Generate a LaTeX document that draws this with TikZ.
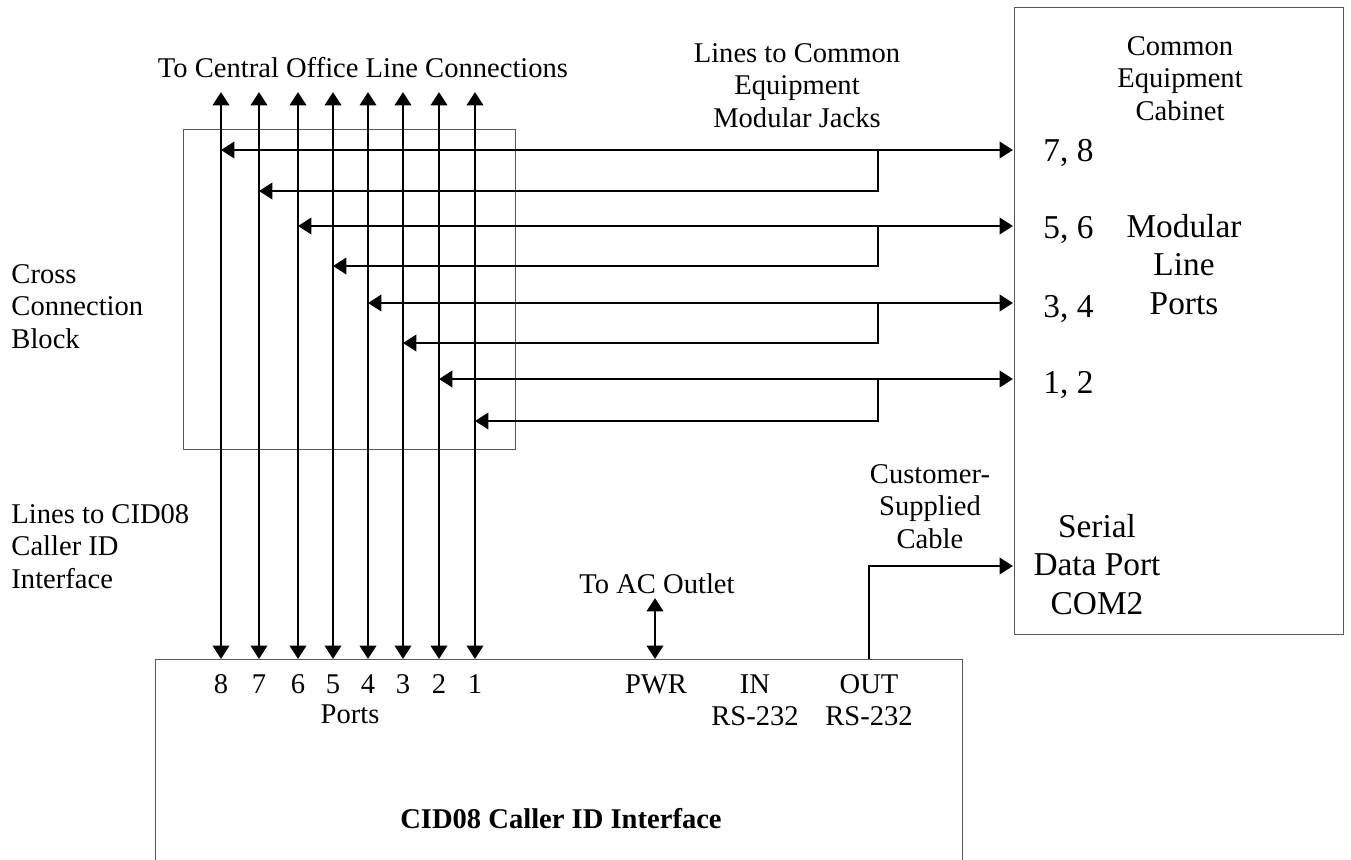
\documentclass[tikz,border=0pt]{standalone}
\usepackage{fontspec}
\setmainfont{Liberation Serif}
\usetikzlibrary{arrows.meta}
\newcommand\smtxt{\fontsize{12}{13.7}\selectfont}
\newcommand\bigtxt{\fontsize{14}{16.2}\selectfont}
\newcommand\mlc[1]{{\renewcommand\arraystretch{1}\begin{tabular}[t]{@{}c@{}}#1\end{tabular}}}
\newcommand\mll[1]{{\renewcommand\arraystretch{1}\begin{tabular}[t]{@{}l@{}}#1\end{tabular}}}
\begin{document}
\begin{tikzpicture}[x=0.42pt,y=-0.42pt,
  >={Triangle[length=5.6pt,width=6.8pt]},
  wire/.style={line width=1.25pt},
  box/.style={draw=black!65,line width=0.6pt,inner sep=0pt,anchor=north west},
  lbl/.style={inner sep=0pt,font=\smtxt,anchor=base},
  big/.style={inner sep=0pt,font=\bigtxt,anchor=base}]
\useasboundingbox (0,0) rectangle (1351,860);
% boxes
\node[box,minimum width=139.44pt,minimum height=134.4pt] (ccbox) at (183,129) {};
\node[box,minimum width=138.18pt,minimum height=263.34pt] (cab) at (1014,7) {};
\node[box,minimum width=338.94pt,minimum height=92pt] (cid) at (155,659) {};
% texts
\node[lbl] (tco) at (363,77) {To Central Office Line Connections};
\node[lbl] (lcom) at (797,62) {\mlc{Lines to Common\\Equipment\\Modular Jacks}};
\node[lbl] (cec) at (1180,55) {\mlc{Common\\Equipment\\Cabinet}};
\node[big,anchor=base west] (n78) at (1043,161) {7, 8};
\node[big,anchor=base west] (n56) at (1043,238) {5, 6};
\node[big,anchor=base west] (n34) at (1043,317) {3, 4};
\node[big,anchor=base west] (n12) at (1043,393) {1, 2};
\node[big] (mlp) at (1184,237) {\mlc{Modular\\Line\\Ports}};
\node[big] (sdp) at (1097,537) {\mlc{Serial\\Data Port\\COM2}};
\node[lbl] (csc) at (930,483) {\mlc{Customer-\\Supplied\\Cable}};
\node[lbl] (aco) at (657,593) {To AC Outlet};
\node[lbl] (pwr) at (656,693) {PWR};
\node[lbl] (inp) at (755,693) {\mlc{IN\\RS-232}};
\node[lbl] (outp) at (869,693) {\mlc{OUT\\RS-232}};
\node[lbl] (ports) at (350,723) {Ports};
\node[lbl,font=\smtxt\bfseries] (title) at (561,828) {CID08 Caller ID Interface};
\node[lbl,anchor=base west] (ccb) at (11,283) {\mll{Cross\\Connection\\Block}};
\node[lbl,anchor=base west] (lcid) at (11,523) {\mll{Lines to CID08\\Caller ID\\Interface}};
% vertical lines
\foreach \n/\x in {8/221,7/259,6/298,5/333,4/368,3/403,2/439,1/475}{
  \coordinate (top\n) at (\x,92);
  \node[lbl] (p\n) at (\x,693) {\n};
  \draw[wire,<->] (top\n) -- (top\n |- cid.north);
}
% horizontal pairs
\foreach \a/\b/\u/\l in {8/7/150/191,6/5/226/266,4/3/303/343,2/1/379/421}{
  \coordinate (j\a) at (1013,\u);
  \coordinate (k\a) at (878,\u);
  \coordinate (m\b) at (878,\l);
  \draw[wire,<->] (top\a |- j\a) -- (j\a);
  \draw[wire,->] (k\a) -- (m\b) -- (top\b |- m\b);
}
% power and serial
\coordinate (ac) at (655,598);
\draw[wire,<->] (ac) -- (ac |- cid.north);
\coordinate (outc) at (869,659);
\coordinate (ser) at (1013,566);
\draw[wire,->] (outc) |- (ser);
\end{tikzpicture}
\end{document}
